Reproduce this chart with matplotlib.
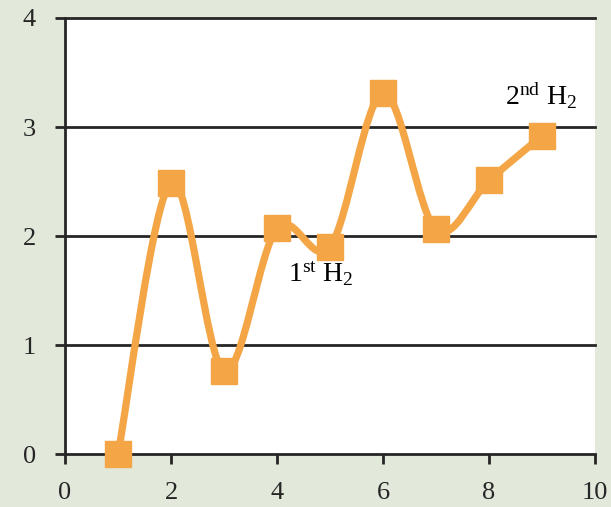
import numpy as np
import matplotlib.pyplot as plt
from matplotlib.path import Path
from matplotlib.patches import PathPatch

plt.rcParams['font.family'] = ['Liberation Serif', 'DejaVu Serif']
plt.rcParams['mathtext.fontset'] = 'custom'
plt.rcParams['mathtext.rm'] = 'Liberation Serif'
plt.rcParams['mathtext.it'] = 'Liberation Serif:italic'

step = [1, 2, 3, 4, 5, 6, 7, 8, 9]
energy = [0.0, 2.49, 0.76, 2.07, 1.90, 3.31, 2.06, 2.51, 2.92]

x_ticks = [0, 2, 4, 6, 8, 10]
y_ticks = [0, 1, 2, 3, 4]

orange = '#f4a546'
ink = '#262626'
bg = '#e2e8da'


def smooth_path(xs, ys, k=1.0 / 6):
    # cubic bezier through every point, tangents from neighbours
    pts = np.column_stack([xs, ys]).astype(float)
    n = len(pts)
    verts = [pts[0]]
    codes = [Path.MOVETO]
    for i in range(n - 1):
        p0 = pts[i - 1] if i > 0 else pts[i]
        p1 = pts[i]
        p2 = pts[i + 1]
        p3 = pts[i + 2] if i + 2 < n else pts[i + 1]
        c1 = p1 + (p2 - p0) * k
        c2 = p2 - (p3 - p1) * k
        verts += [c1, c2, p2]
        codes += [Path.CURVE4] * 3
    return Path(verts, codes)


fig = plt.figure(figsize=(6.11, 5.07), dpi=100, facecolor=bg)
ax = fig.add_axes([0.1064, 0.1045, 0.8674, 0.86])
ax.set_facecolor('white')

ax.set_xlim(0, 10)
ax.set_ylim(0, 4)
ax.set_xticks(x_ticks)
ax.set_yticks(y_ticks)

for y in y_ticks[1:]:
    ax.axhline(y, color=ink, lw=2, zorder=1, clip_on=False)

curve = PathPatch(smooth_path(step, energy), facecolor='none', edgecolor=orange,
                  lw=5.2, capstyle='round', joinstyle='round', zorder=3, clip_on=False)
ax.add_patch(curve)
ax.plot(step, energy, ls='none', marker='s', ms=18.5, color=orange,
        zorder=4, clip_on=False)

ax.text(4.2, 1.58, r'1$^{\rm st}$ H$_2$', fontsize=20, color='black')
ax.text(8.3, 3.2, r'2$^{\rm nd}$ H$_2$', fontsize=20, color='black')

for side in ['top', 'right']:
    ax.spines[side].set_visible(False)
for side in ['left', 'bottom']:
    ax.spines[side].set_color(ink)
    ax.spines[side].set_linewidth(2)

ax.tick_params(axis='both', direction='out', length=7, width=2, color=ink,
               labelsize=19, labelcolor=ink)
ax.tick_params(axis='y', pad=14)
ax.tick_params(axis='x', pad=13)

fig.savefig('out.png', dpi=100, facecolor=bg)
